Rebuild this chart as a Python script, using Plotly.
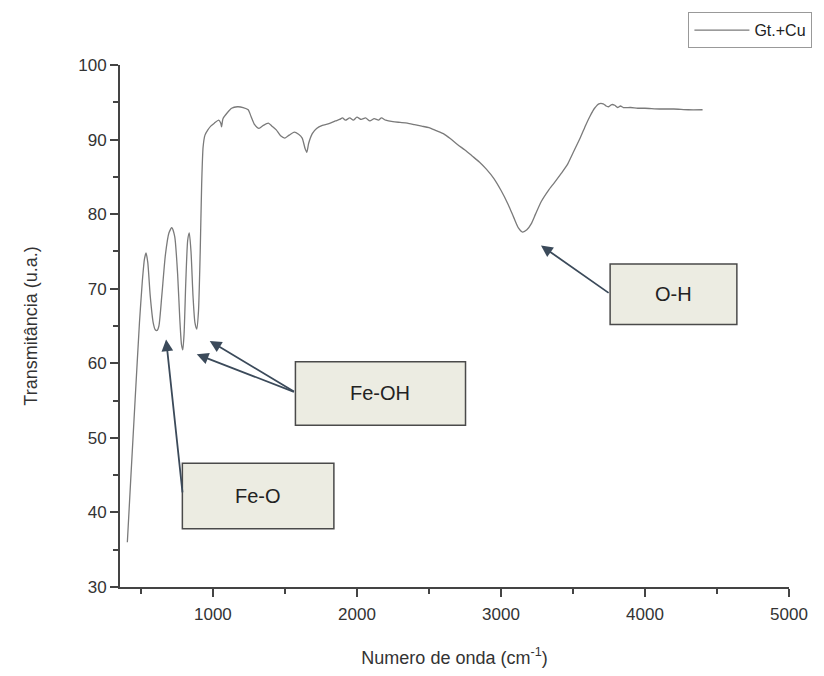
import plotly.graph_objects as go

# Wavenumber (cm^-1) and transmittance (u.a.)
wavenumber = [406, 430, 460, 490, 510, 525, 536, 548, 565, 585, 600, 612, 625, 645, 670, 695, 715, 735, 755, 770,
              782, 791, 800, 812, 825, 836, 848, 862, 875, 888, 900, 912, 922, 932, 945, 965, 985, 1010, 1040, 1055,
              1060, 1070, 1100, 1130, 1170, 1210, 1245, 1265, 1290, 1320, 1350, 1385, 1410, 1440, 1470, 1500, 1530,
              1565, 1595, 1620, 1640, 1652, 1665, 1690, 1720, 1760, 1800, 1850, 1880, 1900, 1920, 1950, 1975, 2000,
              2030, 2060, 2090, 2120, 2150, 2170, 2200, 2250, 2300, 2350, 2400, 2450, 2500, 2550, 2600, 2650, 2700,
              2750, 2800, 2850, 2900, 2950, 3000, 3050, 3090, 3120, 3150, 3180, 3210, 3240, 3280, 3330, 3370, 3420,
              3460, 3500, 3550, 3590, 3620, 3650, 3680, 3710, 3730, 3745, 3770, 3790, 3810, 3830, 3850, 3900, 3950,
              4000, 4100, 4200, 4300, 4400]
transmittance = [36.0, 44.6, 55.1, 65.4, 71.0, 74.0, 74.8, 73.5, 69.0, 65.5, 64.5, 64.4, 65.0, 69.0, 74.5, 77.5, 78.2,
                 77.0, 72.0, 66.0, 62.5, 61.8, 64.0, 71.0, 76.5, 77.5, 75.0, 69.0, 65.5, 64.6, 67.0, 75.0, 84.0, 89.0,
                 90.6, 91.3, 91.8, 92.2, 92.6, 92.2, 91.7, 92.8, 93.6, 94.2, 94.4, 94.3, 94.0, 93.1, 92.0, 91.5, 91.9,
                 92.2, 91.8, 91.3, 90.5, 90.2, 90.6, 91.0, 90.7, 90.2, 88.8, 88.3, 89.5, 90.8, 91.5, 91.9, 92.1, 92.5,
                 92.7, 92.9, 92.6, 92.9, 92.6, 93.0, 92.7, 92.9, 92.5, 92.8, 92.6, 92.9, 92.6, 92.4, 92.3, 92.2, 92.0,
                 91.8, 91.6, 91.2, 90.8, 90.1, 89.3, 88.6, 87.8, 87.0, 86.0, 84.8, 83.2, 81.3, 79.5, 78.2, 77.6, 77.9,
                 78.7, 80.0, 81.7, 83.2, 84.2, 85.5, 86.6, 88.2, 90.2, 92.0, 93.2, 94.2, 94.8, 94.8, 94.5, 94.4, 94.7,
                 94.6, 94.3, 94.5, 94.3, 94.3, 94.2, 94.2, 94.1, 94.1, 94.0, 94.0]

series_name = "Gt.+Cu"
x_ticks = [1000, 2000, 3000, 4000, 5000]
y_ticks = [30, 40, 50, 60, 70, 80, 90, 100]

# Label boxes: text, x0, x1, y0, y1 (data units)
box_labels = ["Fe-O", "Fe-OH", "O-H"]
box_x0 = [788, 1573, 3758]
box_x1 = [1840, 2754, 4638]
box_y0 = [37.8, 51.7, 65.2]
box_y1 = [46.6, 60.2, 73.3]

# Arrows: head (x, y) and tail (x, y)
arrow_head_x = [675, 888, 978, 3278]
arrow_head_y = [63.2, 61.2, 63.0, 75.8]
arrow_tail_x = [790, 1573, 1573, 3758]
arrow_tail_y = [42.5, 56.1, 56.1, 69.3]

FONT = "Liberation Sans, Arial, sans-serif"

fig = go.Figure()
fig.add_trace(go.Scatter(
    x=wavenumber, y=transmittance, mode="lines", name=series_name,
    line=dict(color="#7a7a7a", width=1.3, shape="spline", smoothing=0.6),
))

for t, x0, x1, y0, y1 in zip(box_labels, box_x0, box_x1, box_y0, box_y1):
    fig.add_shape(type="rect", xref="x", yref="y", x0=x0, x1=x1, y0=y0, y1=y1,
                  fillcolor="#ecece2", line=dict(color="#4a4a4a", width=1.5))
    fig.add_annotation(x=(x0 + x1) / 2, y=(y0 + y1) / 2, xref="x", yref="y", text=t,
                       showarrow=False, font=dict(family=FONT, size=20, color="#222"))

for hx, hy, tx, ty in zip(arrow_head_x, arrow_head_y, arrow_tail_x, arrow_tail_y):
    fig.add_annotation(x=hx, y=hy, ax=tx, ay=ty, xref="x", yref="y", axref="x", ayref="y",
                       text="", showarrow=True, arrowhead=2, arrowsize=1.3, arrowwidth=1.8,
                       arrowcolor="#3b4a5a", standoff=0, startstandoff=0)

fig.update_layout(
    width=824, height=676,
    margin=dict(l=120, r=25, t=63, b=89),
    paper_bgcolor="white", plot_bgcolor="white",
    font=dict(family=FONT, color="#333"),
    showlegend=True,
    legend=dict(x=1.035, y=1.101, xanchor="right", yanchor="top", itemwidth=55,
                bordercolor="#999", borderwidth=1, bgcolor="white",
                font=dict(family=FONT, size=16, color="#222")),
    xaxis=dict(range=[355, 5000], tickvals=x_ticks, ticks="outside", ticklen=8, tickwidth=1.5,
               tickcolor="#444", showline=True, linecolor="#444", linewidth=1.8, showgrid=False,
               zeroline=False, tickfont=dict(size=17, color="#333"), ticklabelstandoff=3,
               minor=dict(ticks="outside", ticklen=5, tickwidth=1.5, tickcolor="#444", dtick=500, tick0=0,
                          showgrid=False),
               title=dict(text="Numero de onda (cm<sup>-1</sup>)", font=dict(size=18, color="#333"), standoff=28)),
    yaxis=dict(range=[30, 100], tickvals=y_ticks, ticks="outside", ticklen=8, tickwidth=1.5,
               tickcolor="#444", showline=True, linecolor="#444", linewidth=1.8, showgrid=False,
               zeroline=False, tickfont=dict(size=17, color="#333"),
               minor=dict(ticks="outside", ticklen=5, tickwidth=1.5, tickcolor="#444", dtick=5, tick0=0,
                          showgrid=False),
               title=dict(text="Transmitância (u.a.)", font=dict(size=18, color="#333"), standoff=36)),
)

fig.write_html("out.html")
